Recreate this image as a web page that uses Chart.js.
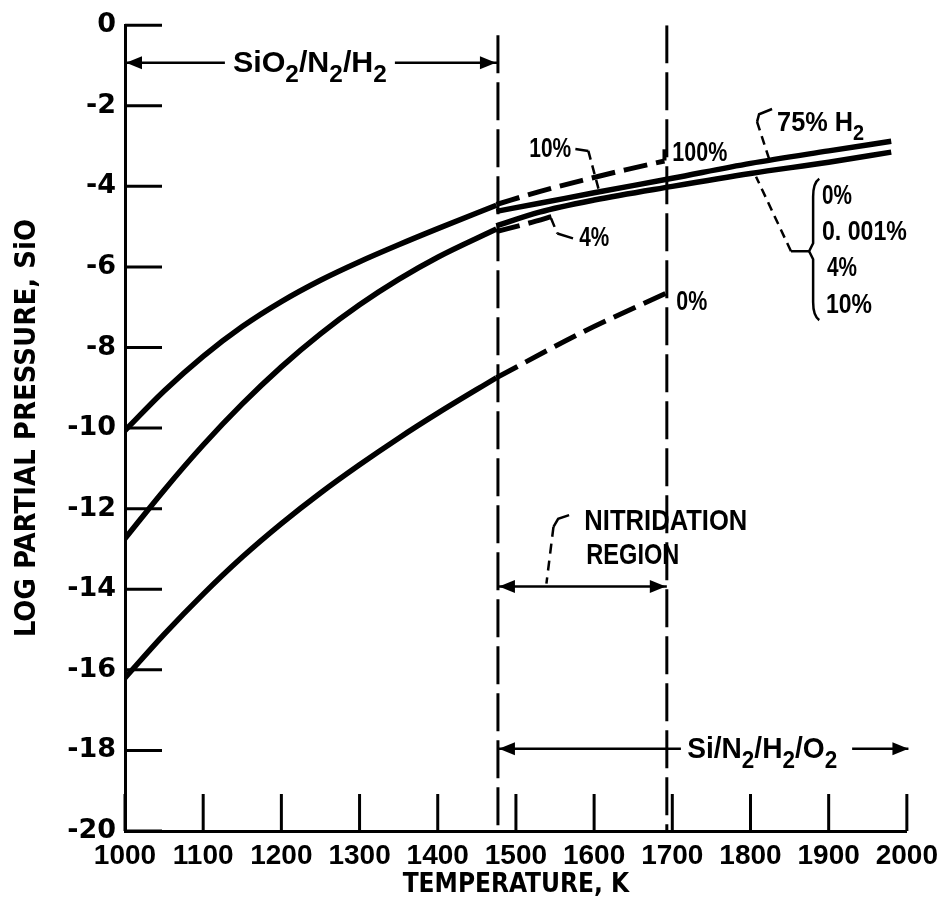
<!DOCTYPE html>
<html>
<head>
<meta charset="utf-8">
<script src="https://cdn.jsdelivr.net/npm/chart.js@4.4.0/dist/chart.umd.min.js"></script>
<style>
  body { margin: 0; background: #fff; }
  #wrap { width: 946px; height: 901px; }
</style>
</head>
<body>
<div id="wrap"><canvas id="myChart" width="946" height="901"></canvas></div>
<script>
// Werte (Temperatur in K, log p SiO)
const tempsSiO2 = [1000, 1050, 1100, 1150, 1200, 1250, 1300, 1350, 1400, 1475];
const curveTop = [-10.06, -9.08, -8.22, -7.48, -6.86, -6.33, -5.87, -5.45, -5.05, -4.47];
const curveMid = [-12.74, -11.54, -10.42, -9.4, -8.48, -7.66, -6.94, -6.31, -5.76, -5.06];
const curveLow = [-16.2, -15.12, -14.12, -13.2, -12.37, -11.61, -10.91, -10.25, -9.63, -8.75];

// gestrichelte Fortsetzungen im Nitridierungsbereich
const temps10 = [1475, 1530, 1585, 1640, 1690];
const dashed10 = [-4.45, -4.13, -3.85, -3.59, -3.37];
const temps4 = [1475, 1515, 1551];
const dashed4 = [-5.12, -4.92, -4.72];
const temps0 = [1475, 1585, 1692];
const dashed0 = [-8.75, -7.62, -6.65];

// Si/N2/H2/O2 Kurven
const tempsSi = [1475, 1530, 1600, 1700, 1800, 1900, 1980];
const siUpper = [-4.62, -4.42, -4.16, -3.8, -3.43, -3.12, -2.88];
const siLower = [-4.98, -4.64, -4.34, -4.0, -3.68, -3.4, -3.15];

// Bereichsgrenzen (gestrichelte Senkrechte)
const regimeBounds = [1477, 1693];
const boundTops = [-0.25, 0];

// Achsen
const xTicks = [1000, 1100, 1200, 1300, 1400, 1500, 1600, 1700, 1800, 1900, 2000];
const yTicks = [0, -2, -4, -6, -8, -10, -12, -14, -16, -18, -20];

function pts(ts, vs) {
  return ts.map((t, i) => ({ x: t, y: vs[i] }));
}

function solid(data) {
  return { data: data, borderColor: '#000', borderWidth: 5.5, pointRadius: 0,
    cubicInterpolationMode: 'monotone', fill: false };
}
function dashed(data) {
  return { data: data, borderColor: '#000', borderWidth: 5, pointRadius: 0,
    borderDash: [24, 9], cubicInterpolationMode: 'monotone', fill: false };
}

const datasets = [
  solid(pts(tempsSiO2, curveTop)),
  solid(pts(tempsSiO2, curveMid)),
  solid(pts(tempsSiO2, curveLow)),
  dashed(pts(temps10, dashed10)),
  dashed(pts(temps4, dashed4)),
  dashed(pts(temps0, dashed0)),
  solid(pts(tempsSi, siUpper)),
  solid(pts(tempsSi, siLower))
];
regimeBounds.forEach((t, i) => {
  datasets.push({ data: [{ x: t, y: boundTops[i] }, { x: t, y: -20 }], borderColor: '#000',
    borderWidth: 3, pointRadius: 0, borderDash: [38, 9], fill: false });
});

// --- Hilfsfunktionen fürs Zeichnen der Beschriftungen ---
function line(ctx, x1, y1, x2, y2) {
  ctx.beginPath(); ctx.moveTo(x1, y1); ctx.lineTo(x2, y2); ctx.stroke();
}
function poly(ctx, p) {
  ctx.beginPath(); ctx.moveTo(p[0][0], p[0][1]);
  for (let i = 1; i < p.length; i++) ctx.lineTo(p[i][0], p[i][1]);
  ctx.stroke();
}
function arrowHead(ctx, x, y, dir) {
  ctx.beginPath();
  ctx.moveTo(x, y);
  ctx.lineTo(x - dir * 16, y - 6.5);
  ctx.lineTo(x - dir * 16, y + 6.5);
  ctx.closePath(); ctx.fill();
}
// Text mit Tiefstellungen ("_2"), auf Zielbreite gestaucht
function drawText(ctx, parts, x, y, size, w) {
  const main = 'bold ' + size + 'px "Liberation Sans"';
  const sub = 'bold ' + Math.round(size * 0.8) + 'px "Liberation Sans"';
  let natural = 0;
  parts.forEach(p => {
    ctx.font = p[0] === '_' ? sub : main;
    natural += ctx.measureText(p[0] === '_' ? p.slice(1) : p).width;
  });
  const k = w / natural;
  ctx.save();
  ctx.translate(x, y); ctx.scale(k, 1);
  ctx.textBaseline = 'alphabetic'; ctx.textAlign = 'left';
  let cx = 0;
  parts.forEach(p => {
    const isSub = p[0] === '_';
    const s = isSub ? p.slice(1) : p;
    ctx.font = isSub ? sub : main;
    ctx.fillText(s, cx, isSub ? size * 0.33 : 0);
    cx += ctx.measureText(s).width;
  });
  ctx.restore();
}

const annotPlugin = {
  id: 'annot',
  afterDatasetsDraw(chart) {
    const ctx = chart.ctx;
    const xs = chart.scales.x, ys = chart.scales.y;
    const X = t => xs.getPixelForValue(t);
    const Y = v => ys.getPixelForValue(v);
    ctx.save();
    ctx.strokeStyle = '#000'; ctx.fillStyle = '#000';
    ctx.lineCap = 'butt';

    // Teilstriche nach innen
    ctx.lineWidth = 3;
    yTicks.forEach(v => line(ctx, X(1000), Y(v), X(1000) + 37, Y(v)));
    xTicks.forEach(t => line(ctx, X(t), Y(-20), X(t), Y(-20) - 37));

    // SiO2/N2/H2 Pfeil
    ctx.lineWidth = 2.5;
    const ay = Y(-0.93);
    const tx = X(1138);
    line(ctx, X(1000), ay, tx - 8, ay);
    line(ctx, tx + 154 + 8, ay, X(1477), ay);
    arrowHead(ctx, X(1000) + 1, ay, -1);
    arrowHead(ctx, X(1477) - 2, ay, 1);
    drawText(ctx, ['SiO', '_2', '/N', '_2', '/H', '_2'], tx, Y(-1.17), 30, 154);

    // Nitridierungsbereich
    const ny = Y(-13.93);
    line(ctx, X(1477), ny, X(1693), ny);
    arrowHead(ctx, X(1477) + 1, ny, -1);
    arrowHead(ctx, X(1693) - 1, ny, 1);
    drawText(ctx, ['NITRIDATION'], X(1587.5), Y(-12.53), 30, 163);
    drawText(ctx, ['REGION'], X(1590), Y(-13.37), 30, 93);
    ctx.lineWidth = 2.5;
    poly(ctx, [[X(1568), Y(-12.16)], [X(1554), Y(-12.25)], [X(1548), Y(-12.45)]]);
    ctx.setLineDash([10, 7]);
    line(ctx, X(1548), Y(-12.45), X(1539), Y(-13.86));
    ctx.setLineDash([]);

    // Si/N2/H2/O2 Pfeil
    const sy = Y(-17.96);
    line(ctx, X(1477), sy, X(1711), sy);
    arrowHead(ctx, X(1477) + 1, sy, -1);
    line(ctx, X(1930), sy, X(2002), sy);
    arrowHead(ctx, X(2002), sy, 1);
    drawText(ctx, ['Si/N', '_2', '/H', '_2', '/O', '_2'], X(1719), Y(-18.18), 30, 150);

    // Prozentangaben
    drawText(ctx, ['10%'], X(1517), Y(-3.27), 28, 42);
    poly(ctx, [[X(1576), Y(-3.07)], [X(1592.6), Y(-3.12)]]);
    ctx.setLineDash([9, 6]);
    line(ctx, X(1592.6), Y(-3.12), X(1606.6), Y(-4.13));
    ctx.setLineDash([]);

    drawText(ctx, ['4%'], X(1581), Y(-5.49), 28, 30);
    ctx.setLineDash([9, 6]);
    line(ctx, X(1545), Y(-4.8), X(1553), Y(-5.17));
    ctx.setLineDash([]);
    line(ctx, X(1553), Y(-5.17), X(1573), Y(-5.29));

    ctx.lineWidth = 4;
    line(ctx, X(1690), Y(-3.36), X(1690), Y(-3.08));
    drawText(ctx, ['100%'], X(1700), Y(-3.37), 28, 55);
    drawText(ctx, ['0%'], X(1705), Y(-7.07), 28, 31);

    // 75% H2
    drawText(ctx, ['75% H', '_2'], X(1834), Y(-2.62), 28, 87);
    ctx.lineWidth = 2.5;
    poly(ctx, [[X(1827.6), Y(-2.08)], [X(1811), Y(-2.21)], [X(1808.4), Y(-2.4)]]);
    ctx.setLineDash([9, 6]);
    line(ctx, X(1808.4), Y(-2.4), X(1823.8), Y(-3.32));
    ctx.setLineDash([]);

    // Klammer
    const bx0 = X(1875), bx1 = X(1888);
    const bt = Y(-3.81), bb = Y(-7.32), bm = Y(-5.61);
    ctx.lineWidth = 2.5;
    ctx.beginPath();
    ctx.moveTo(bx1, bt);
    ctx.quadraticCurveTo(bx0 + 4, bt + 4, bx0 + 4, bt + 18);
    ctx.lineTo(bx0 + 4, bm - 8);
    ctx.lineTo(bx0, bm);
    ctx.lineTo(bx0 + 4, bm + 8);
    ctx.lineTo(bx0 + 4, bb - 18);
    ctx.quadraticCurveTo(bx0 + 4, bb - 4, bx1, bb);
    ctx.stroke();
    line(ctx, bx0, bm, X(1851.8), bm);
    ctx.setLineDash([9, 6]);
    line(ctx, X(1851.8), bm, X(1807.1), Y(-3.76));
    ctx.setLineDash([]);
    drawText(ctx, ['0%'], X(1891.4), Y(-4.43), 28, 30);
    drawText(ctx, ['0. 001%'], X(1891.4), Y(-5.34), 28, 85);
    drawText(ctx, ['4%'], X(1897.8), Y(-6.23), 28, 30);
    drawText(ctx, ['10%'], X(1896.6), Y(-7.14), 28, 46);

    ctx.restore();
  }
};

const ctx = document.getElementById('myChart').getContext('2d');
const chart = new Chart(ctx, {
  type: 'line',
  data: { datasets: datasets },
  options: {
    responsive: false,
    animation: false,
    layout: { padding: { top: 20.7, right: 33, bottom: 0, left: 0 } },
    plugins: { legend: { display: false }, tooltip: { enabled: false } },
    scales: {
      x: {
        type: 'linear', min: 1000, max: 2000,
        afterFit: s => { s.height = 70; },
        afterBuildTicks: s => { s.ticks = xTicks.map(v => ({ value: v })); },
        grid: { display: false, drawTicks: false },
        border: { display: true, color: '#000', width: 3 },
        ticks: { color: '#000', padding: 8, maxRotation: 0, autoSkip: false,
          callback: v => String(v),
          font: { family: '"Liberation Sans", sans-serif', size: 28, weight: 'bold' } },
        title: { display: true, text: 'TEMPERATURE, K', color: '#000',
          padding: { top: 0, bottom: 0 },
          font: { family: '"DejaVu Sans Condensed", sans-serif', size: 26, weight: 'bold' } }
      },
      y: {
        type: 'linear', min: -20, max: 0,
        afterFit: s => { s.width = 125; },
        afterBuildTicks: s => { s.ticks = yTicks.map(v => ({ value: v })); },
        grid: { display: false, drawTicks: false },
        border: { display: true, color: '#000', width: 3 },
        ticks: { color: '#000', padding: 9, autoSkip: false,
          callback: v => String(v),
          font: { family: '"DejaVu Sans", sans-serif', size: 27, weight: 'bold' } },
        title: { display: true, text: 'LOG PARTIAL PRESSURE, SiO', color: '#000',
          padding: { top: 10, bottom: 0 },
          font: { family: '"DejaVu Sans Condensed", sans-serif', size: 29, weight: 'bold' } }
      }
    }
  },
  plugins: [annotPlugin]
});
</script>
</body>
</html>
